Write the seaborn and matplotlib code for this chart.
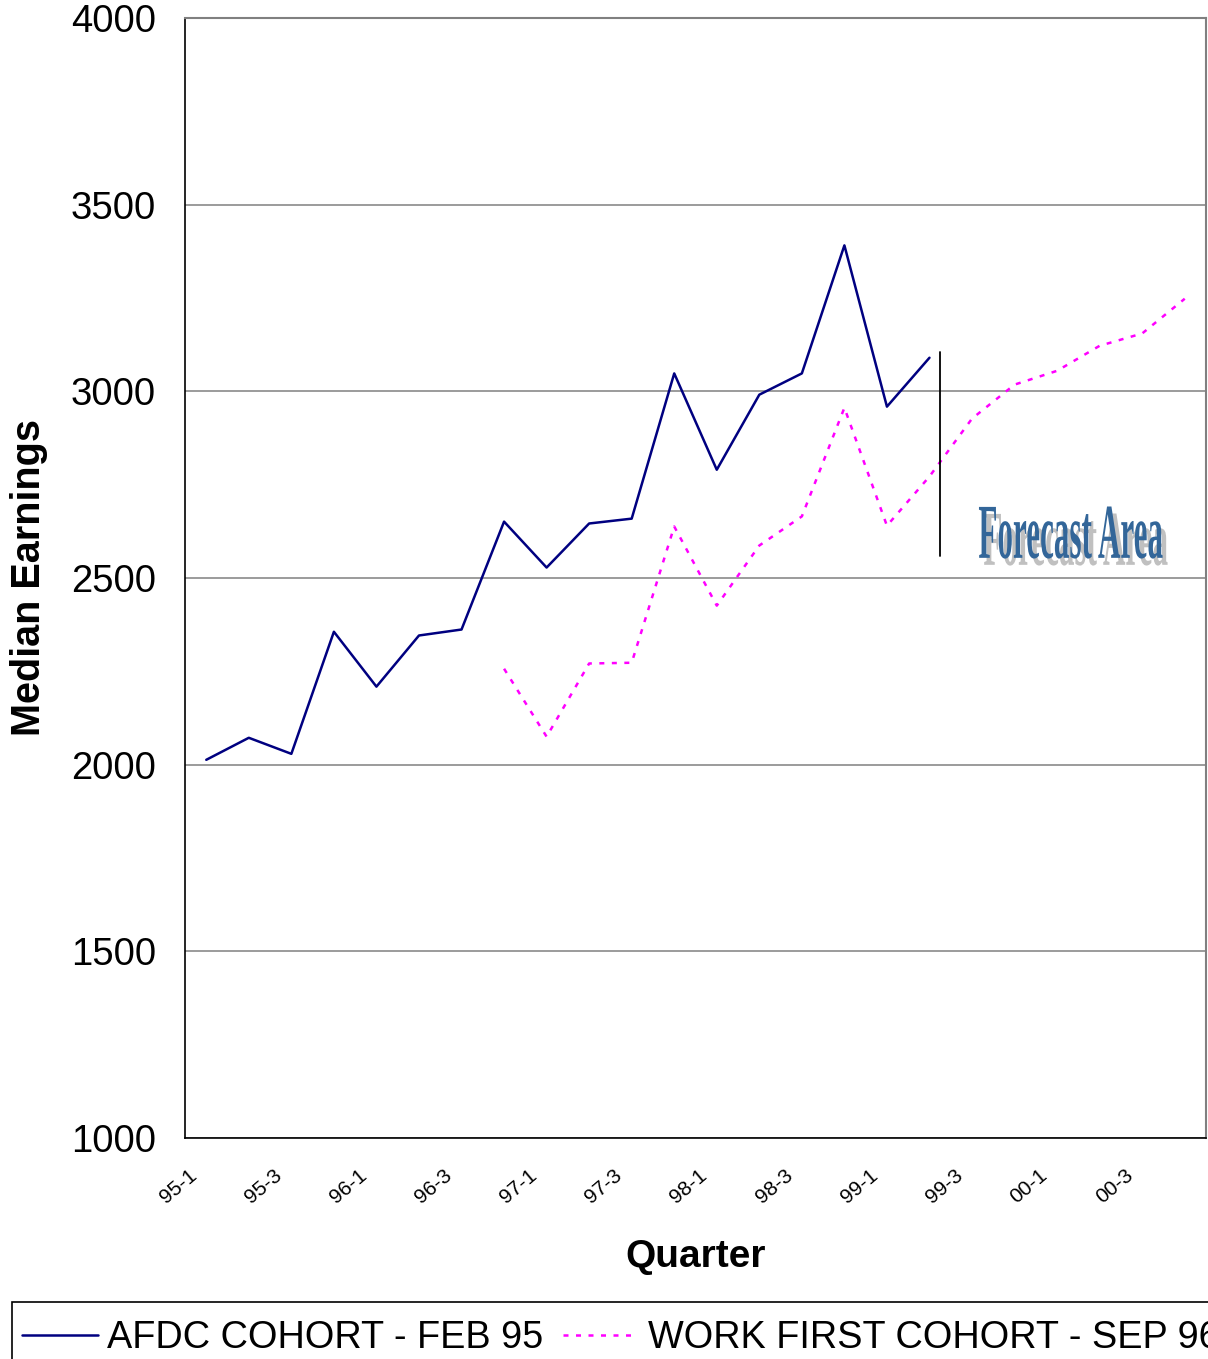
import numpy as np
import pandas as pd
import matplotlib
matplotlib.use('Agg')
import matplotlib.pyplot as plt
import matplotlib.patheffects as pe
import matplotlib.transforms as mtrans
from matplotlib.colors import to_rgba
from matplotlib.patches import Rectangle
import seaborn as sns

quarters = ['95-1', '95-2', '95-3', '95-4', '96-1', '96-2', '96-3', '96-4',
            '97-1', '97-2', '97-3', '97-4', '98-1', '98-2', '98-3', '98-4',
            '99-1', '99-2', '99-3', '99-4', '00-1', '00-2', '00-3', '00-4']

afdc = [2013, 2072, 2029, 2356, 2209, 2346, 2362, 2651, 2528, 2646, 2659, 3048,
        2790, 2991, 3048, 3391, 2959, 3090]

work_first = [2257, 2075, 2271, 2273, 2638, 2426, 2587, 2665, 2956, 2640, 2772,
              2927, 3018, 3055, 3122, 3155, 3248]
wf_start = 7  # first quarter of the Work First cohort (96-4)

afdc_name = 'AFDC COHORT - FEB 95'
wf_name = 'WORK FIRST COHORT - SEP 96'

rows = []
for i, v in enumerate(afdc):
    rows.append({'q': i, 'earn': v, 'series': afdc_name})
for i, v in enumerate(work_first):
    rows.append({'q': wf_start + i, 'earn': v, 'series': wf_name})
df = pd.DataFrame(rows)


class Squeeze(pe.AbstractPathEffect):
    """draw the glyphs squeezed horizontally around the text anchor (WordArt look)"""
    def __init__(self, txt, sx, offset=(0, 0), color=None):
        super().__init__()
        self.txt = txt
        self.sx = sx
        self.off = offset
        self.color = color

    def draw_path(self, renderer, gc, tpath, affine, rgbFace=None):
        x0, y0 = self.txt.get_transform().transform(self.txt.get_position())
        t = affine + mtrans.Affine2D().translate(-x0, -y0).scale(self.sx, 1).translate(
            x0 + self.off[0], y0 + self.off[1])
        gc0 = renderer.new_gc()
        gc0.copy_properties(gc)
        face = to_rgba(self.color) if self.color is not None else rgbFace
        renderer.draw_path(gc0, tpath, t, face)
        gc0.restore()


sns.set_style('white')
plt.rcParams['font.family'] = ['Liberation Sans', 'DejaVu Sans']
plt.rcParams['text.color'] = 'black'
plt.rcParams['xtick.color'] = 'black'
plt.rcParams['ytick.color'] = 'black'
plt.rcParams['axes.labelcolor'] = 'black'

fig = plt.figure(figsize=(12.08, 13.59), dpi=100)
ax = fig.add_axes([185 / 1208, 1 - 1138 / 1359, (1206 - 185) / 1208, (1138 - 18) / 1359])

sns.lineplot(data=df, x='q', y='earn', hue='series', style='series',
             palette={afdc_name: '#000080', wf_name: '#FF00FF'},
             dashes={afdc_name: '', wf_name: (2, 3)},
             linewidth=1.8, ax=ax, legend=False)

# forecast divider + label
ax.plot([17.25, 17.25], [2560, 3105], color='black', lw=1.3)
fc = ax.text(22.49, 2554, 'Forecast Area', fontsize=56, fontweight='bold',
             family=['Liberation Serif', 'DejaVu Serif'], color='#336699',
             ha='right', va='baseline')
fc.set_path_effects([Squeeze(fc, 0.40, offset=(5, -7), color='#C0C0C0'),
                     Squeeze(fc, 0.40)])

ax.set_xlim(-0.5, 23.5)
ax.set_ylim(1000, 4000)
ax.set_yticks(np.arange(1000, 4001, 500))
ax.set_yticklabels([str(v) for v in range(1000, 4001, 500)], fontsize=27.5)
ax.yaxis.grid(True, color='#808080', lw=1.1)
ax.set_axisbelow(True)

ax.set_xticks(np.arange(-0.5, 24, 1), minor=True)
ax.set_xticks(np.arange(0, 24, 2))
ax.set_xticklabels(quarters[::2], fontsize=15, rotation=40, ha='right',
                   rotation_mode='anchor')
ax.tick_params(axis='x', which='major', length=0, pad=20)
ax.tick_params(axis='x', which='minor', length=7, width=1, color='black', direction='out')
ax.tick_params(axis='y', length=7, width=1, color='black', direction='out', pad=14)
shift = mtrans.ScaledTranslation(-18 / 100, 0, fig.dpi_scale_trans)
for lab in ax.get_xticklabels():
    lab.set_transform(lab.get_transform() + shift)

for s in ['left', 'bottom']:
    ax.spines[s].set_color('black')
    ax.spines[s].set_linewidth(1.2)
for s in ['top', 'right']:
    ax.spines[s].set_color('#808080')
    ax.spines[s].set_linewidth(1.5)

ax.set_xlabel('Quarter', fontsize=28, fontweight='bold', labelpad=23)
ax.set_ylabel('Median Earnings', fontsize=28.5, fontweight='bold', labelpad=16)

handles = [plt.Line2D([], [], color='#000080', lw=1.8),
           plt.Line2D([], [], color='#FF00FF', lw=1.8, dashes=(2, 3))]
leg = fig.legend(handles, [afdc_name, wf_name], loc='upper left',
                 bbox_to_anchor=(22 / 1208, 1 - 1320 / 1359), ncol=2,
                 fontsize=27.3, frameon=False, handlelength=2.0,
                 handletextpad=0.25, columnspacing=0.5, borderpad=0,
                 borderaxespad=0)
# legend box runs off the bottom/right of the image like the original
fig.patches.append(Rectangle((12 / 1208, -0.05), 1.0, 0.05 + (1359 - 1302) / 1359,
                             transform=fig.transFigure, fill=False,
                             edgecolor='black', lw=1.2))

fig.savefig('out.png', dpi=100)
